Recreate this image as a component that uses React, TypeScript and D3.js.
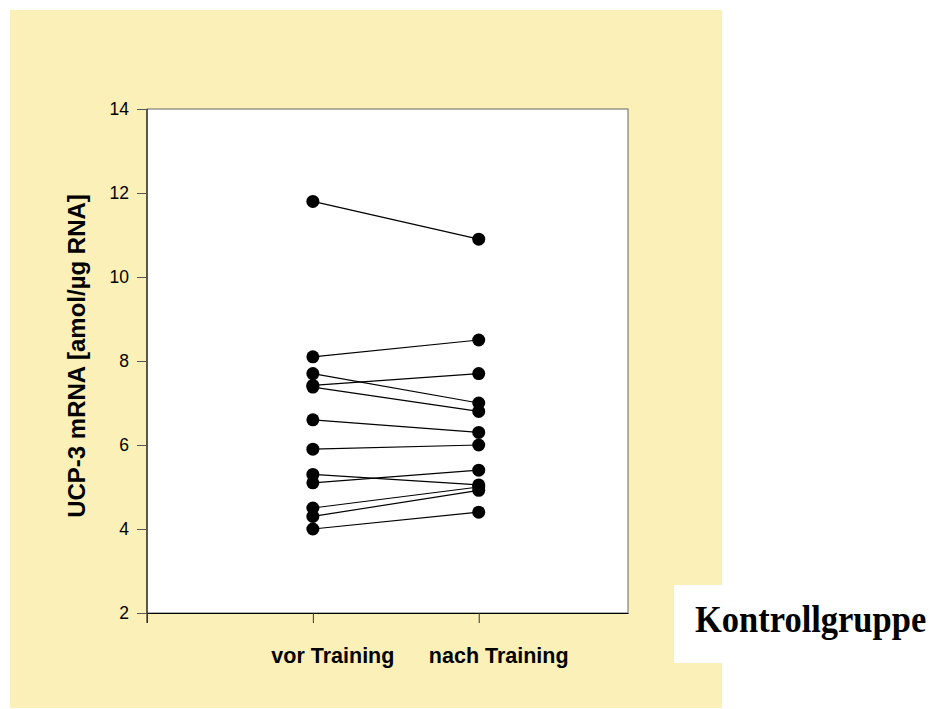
import { useEffect, useRef } from "react";
import * as d3 from "d3";

const groups = ["vor Training", "nach Training"];
const yTicks = [2, 4, 6, 8, 10, 12, 14];
// one value pair per subject
const vorValues = [11.8, 8.1, 7.7, 7.42, 7.38, 6.6, 5.9, 5.3, 5.1, 4.5, 4.3, 4.0];
const nachValues = [10.9, 8.5, 7.0, 7.7, 6.8, 6.3, 6.0, 5.05, 5.4, 5.0, 4.92, 4.4];
const title = "Kontrollgruppe";
const yLabel = "UCP-3 mRNA [amol/µg RNA]";

export default function App() {
  const svgRef = useRef<SVGSVGElement>(null);

  useEffect(() => {
    if (!svgRef.current) return;
    const svg = d3.select(svgRef.current);
    svg.selectAll("*").remove();

    const margin = { left: 147, top: 109, right: 628, bottom: 613 };
    const sans = "Liberation Sans, Arial, sans-serif";

    // background panel
    svg.append("rect")
      .attr("x", 10).attr("y", 10)
      .attr("width", 712).attr("height", 698)
      .attr("fill", "#fbf0b7");

    svg.append("rect")
      .attr("x", margin.left).attr("y", margin.top)
      .attr("width", margin.right - margin.left)
      .attr("height", margin.bottom - margin.top)
      .attr("fill", "#fff")
      .attr("stroke", "#666")
      .attr("stroke-width", 1);

    const x = d3.scaleLinear().domain([0, 2.9]).range([margin.left, margin.right]);
    const y = d3.scaleLinear().domain([2, 14]).range([margin.bottom, margin.top]);

    // y axis
    const yAxis = svg.append("g")
      .attr("transform", `translate(${margin.left},0)`)
      .call(d3.axisLeft(y).tickValues(yTicks).tickSize(10).tickPadding(8).tickSizeOuter(0));
    yAxis.attr("font-size", null).attr("font-family", null);
    yAxis.select(".domain").attr("stroke", "#000").attr("d", `M0,${margin.top}V${margin.bottom + 10}`);
    yAxis.selectAll(".tick line").attr("stroke", "#555");
    yAxis.selectAll("text")
      .style("font-family", sans)
      .style("font-size", "17.5px")
      .attr("fill", "#000");

    // x axis
    const xAxis = svg.append("g")
      .attr("transform", `translate(0,${margin.bottom})`)
      .call(d3.axisBottom(x).tickValues([0, 1, 2]).tickSize(10).tickFormat(() => "").tickSizeOuter(0));
    xAxis.select(".domain").attr("stroke", "#000");
    xAxis.selectAll(".tick line").attr("stroke", "#333");

    svg.selectAll(".grp")
      .data(groups)
      .join("text")
      .attr("class", "grp")
      .attr("x", (_, i) => x(i + 1) + 20)
      .attr("y", 663)
      .attr("text-anchor", "middle")
      .style("font-family", sans)
      .style("font-weight", "bold")
      .style("font-size", "21.5px")
      .text((d) => d);

    svg.append("text")
      .attr("transform", `translate(85,${(y(4) + y(12)) / 2 - 5}) rotate(-90)`)
      .attr("text-anchor", "middle")
      .style("font-family", sans)
      .style("font-weight", "bold")
      .style("font-size", "24px")
      .text(yLabel);

    // connecting lines
    const pairs = vorValues.map((v, i) => [v, nachValues[i]]);
    svg.append("g")
      .selectAll("line")
      .data(pairs)
      .join("line")
      .attr("x1", x(1)).attr("x2", x(2))
      .attr("y1", (d) => y(d[0]))
      .attr("y2", (d) => y(d[1]))
      .attr("stroke", "#000")
      .attr("stroke-width", 1.2);

    svg.append("g")
      .selectAll("circle.vor")
      .data(vorValues)
      .join("circle")
      .attr("cx", x(1)).attr("cy", (d) => y(d))
      .attr("r", 6.5).attr("fill", "#000");

    svg.append("g")
      .selectAll("circle.nach")
      .data(nachValues)
      .join("circle")
      .attr("cx", x(2)).attr("cy", (d) => y(d))
      .attr("r", 6.5).attr("fill", "#000");

    // label box
    svg.append("rect")
      .attr("x", 674).attr("y", 585)
      .attr("width", 260).attr("height", 78)
      .attr("fill", "#fff");
    svg.append("text")
      .attr("transform", "translate(695,632) scale(1,1.1)")
      .style("font-family", "Liberation Serif, Times New Roman, serif")
      .style("font-weight", "bold")
      .style("font-size", "34.5px")
      .text(title);
  }, []);

  return (
    <svg
      ref={svgRef}
      width={934}
      height={709}
      style={{ position: "absolute", left: 0, top: 0, background: "#fff" }}
    />
  );
}
